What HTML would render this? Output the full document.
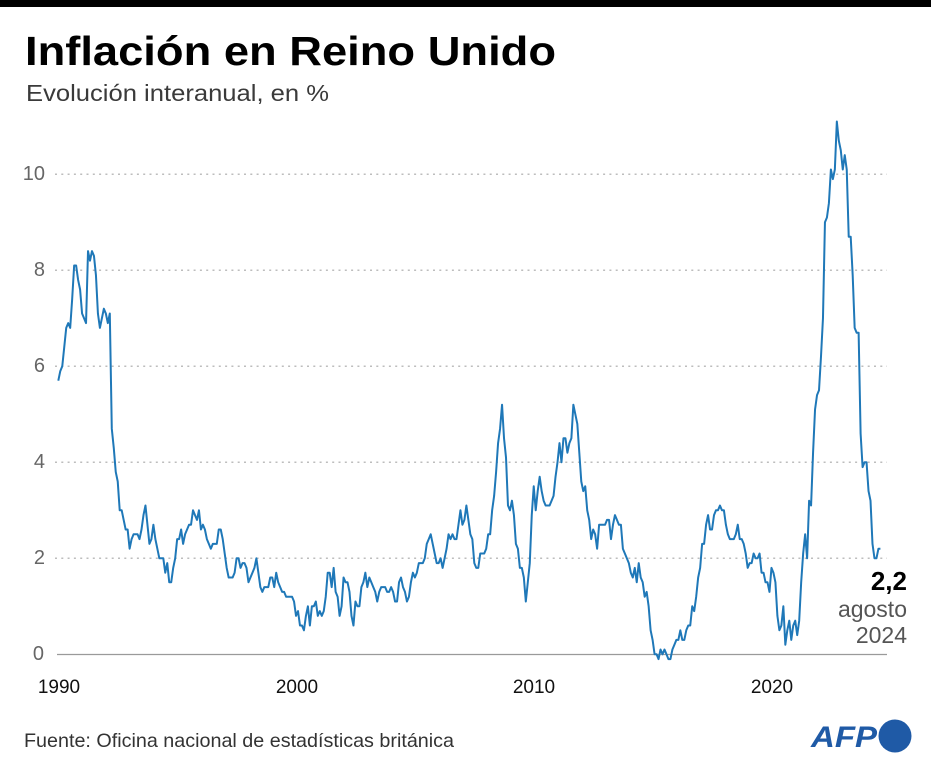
<!DOCTYPE html>
<html>
<head>
<meta charset="utf-8">
<style>
  html,body{margin:0;padding:0;background:#fff;}
  body{width:931px;height:768px;overflow:hidden;}
  svg{display:block;font-family:"Liberation Sans",sans-serif;}
</style>
</head>
<body>
<svg width="931" height="768" viewBox="0 0 931 768" xmlns="http://www.w3.org/2000/svg">
  <rect x="0" y="0" width="931" height="768" fill="#fff"/>
  <rect x="0" y="0" width="931" height="7" fill="#000"/>

  <text x="25" y="65" font-size="41" font-weight="bold" fill="#000" textLength="531" lengthAdjust="spacingAndGlyphs">Inflación en Reino Unido</text>
  <text x="26" y="101" font-size="23" fill="#3a3a3a" textLength="303" lengthAdjust="spacingAndGlyphs">Evolución interanual, en %</text>

  <!-- gridlines -->
  <g stroke="#bdbdbd" stroke-width="1.5" stroke-dasharray="2,4.3">
    <line x1="55" y1="174.3" x2="887" y2="174.3"/>
    <line x1="55" y1="270.3" x2="887" y2="270.3"/>
    <line x1="55" y1="366.3" x2="887" y2="366.3"/>
    <line x1="55" y1="462.3" x2="887" y2="462.3"/>
    <line x1="55" y1="558.3" x2="887" y2="558.3"/>
  </g>
  <line x1="57" y1="654.5" x2="887" y2="654.5" stroke="#9a9a9a" stroke-width="1.2"/>

  <!-- y labels -->
  <g font-size="20" fill="#666" text-anchor="end">
    <text x="45" y="180">10</text>
    <text x="45" y="276">8</text>
    <text x="45" y="372">6</text>
    <text x="45" y="468">4</text>
    <text x="45" y="564">2</text>
    <text x="44" y="660">0</text>
  </g>

  <!-- x labels -->
  <g font-size="19" fill="#111" text-anchor="middle">
    <text x="59" y="693">1990</text>
    <text x="297" y="693">2000</text>
    <text x="534" y="693">2010</text>
    <text x="772" y="693">2020</text>
  </g>

  <!-- series -->
  <polyline transform="translate(58.3,654.3) scale(1.981,-48)" fill="none" stroke="#1f78b8" stroke-width="2" stroke-linejoin="round" vector-effect="non-scaling-stroke" points="
0,5.7 1,5.9 2,6.0 3,6.4 4,6.8 5,6.9 6,6.8 7,7.4 8,8.1 9,8.1 10,7.8 11,7.6
12,7.1 13,7.0 14,6.9 15,8.4 16,8.2 17,8.4 18,8.3 19,7.9 20,7.1 21,6.8 22,7.0 23,7.2
24,7.1 25,6.9 26,7.1 27,4.7 28,4.3 29,3.8 30,3.6 31,3.0 32,3.0 33,2.8 34,2.6 35,2.6
36,2.2 37,2.4 38,2.5 39,2.5 40,2.5 41,2.4 42,2.6 43,2.9 44,3.1 45,2.7 46,2.3 47,2.4
48,2.7 49,2.4 50,2.2 51,2.0 52,2.0 53,2.0 54,1.7 55,1.9 56,1.5 57,1.5 58,1.8 59,2.0
60,2.4 61,2.4 62,2.6 63,2.3 64,2.5 65,2.6 66,2.7 67,2.7 68,3.0 69,2.9 70,2.8 71,3.0
72,2.6 73,2.7 74,2.6 75,2.4 76,2.3 77,2.2 78,2.3 79,2.3 80,2.3 81,2.6 82,2.6 83,2.4
84,2.1 85,1.8 86,1.6 87,1.6 88,1.6 89,1.7 90,2.0 91,2.0 92,1.8 93,1.9 94,1.9 95,1.8
96,1.5 97,1.6 98,1.7 99,1.8 100,2.0 101,1.7 102,1.4 103,1.3 104,1.4 105,1.4 106,1.4 107,1.6
108,1.6 109,1.4 110,1.7 111,1.5 112,1.4 113,1.3 114,1.3 115,1.2 116,1.2 117,1.2 118,1.2 119,1.1
120,0.8 121,0.9 122,0.6 123,0.6 124,0.5 125,0.8 126,1.0 127,0.6 128,1.0 129,1.0 130,1.1 131,0.8
132,0.9 133,0.8 134,0.9 135,1.2 136,1.7 137,1.7 138,1.4 139,1.8 140,1.3 141,1.2 142,0.8 143,1.0
144,1.6 145,1.5 146,1.5 147,1.3 148,0.8 149,0.6 150,1.1 151,1.0 152,1.0 153,1.4 154,1.5 155,1.7
156,1.4 157,1.6 158,1.5 159,1.4 160,1.3 161,1.1 162,1.3 163,1.4 164,1.4 165,1.4 166,1.3 167,1.3
168,1.4 169,1.3 170,1.1 171,1.1 172,1.5 173,1.6 174,1.4 175,1.3 176,1.1 177,1.2 178,1.5 179,1.7
180,1.6 181,1.7 182,1.9 183,1.9 184,1.9 185,2.0 186,2.3 187,2.4 188,2.5 189,2.3 190,2.1 191,1.9
192,1.9 193,2.0 194,1.8 195,2.0 196,2.2 197,2.5 198,2.4 199,2.5 200,2.4 201,2.4 202,2.7 203,3.0
204,2.7 205,2.8 206,3.1 207,2.8 208,2.5 209,2.4 210,1.9 211,1.8 212,1.8 213,2.1 214,2.1 215,2.1
216,2.2 217,2.5 218,2.5 219,3.0 220,3.3 221,3.8 222,4.4 223,4.7 224,5.2 225,4.5 226,4.1 227,3.1
228,3.0 229,3.2 230,2.9 231,2.3 232,2.2 233,1.8 234,1.8 235,1.6 236,1.1 237,1.5 238,1.9 239,2.9
240,3.5 241,3.0 242,3.4 243,3.7 244,3.4 245,3.2 246,3.1 247,3.1 248,3.1 249,3.2 250,3.3 251,3.7
252,4.0 253,4.4 254,4.0 255,4.5 256,4.5 257,4.2 258,4.4 259,4.5 260,5.2 261,5.0 262,4.8 263,4.2
264,3.6 265,3.4 266,3.5 267,3.0 268,2.8 269,2.4 270,2.6 271,2.5 272,2.2 273,2.7 274,2.7 275,2.7
276,2.7 277,2.8 278,2.8 279,2.4 280,2.7 281,2.9 282,2.8 283,2.7 284,2.7 285,2.2 286,2.1 287,2.0
288,1.9 289,1.7 290,1.6 291,1.8 292,1.5 293,1.9 294,1.6 295,1.5 296,1.2 297,1.3 298,1.0 299,0.5
300,0.3 301,0.0 302,0.0 303,-0.1 304,0.1 305,0.0 306,0.1 307,0.0 308,-0.1 309,-0.1 310,0.1 311,0.2
312,0.3 313,0.3 314,0.5 315,0.3 316,0.3 317,0.5 318,0.6 319,0.6 320,1.0 321,0.9 322,1.2 323,1.6
324,1.8 325,2.3 326,2.3 327,2.7 328,2.9 329,2.6 330,2.6 331,2.9 332,3.0 333,3.0 334,3.1 335,3.0
336,3.0 337,2.7 338,2.5 339,2.4 340,2.4 341,2.4 342,2.5 343,2.7 344,2.4 345,2.4 346,2.3 347,2.1
348,1.8 349,1.9 350,1.9 351,2.1 352,2.0 353,2.0 354,2.1 355,1.7 356,1.7 357,1.5 358,1.5 359,1.3
360,1.8 361,1.7 362,1.5 363,0.8 364,0.5 365,0.6 366,1.0 367,0.2 368,0.5 369,0.7 370,0.3 371,0.6
372,0.7 373,0.4 374,0.7 375,1.5 376,2.1 377,2.5 378,2.0 379,3.2 380,3.1 381,4.2 382,5.1 383,5.4
384,5.5 385,6.2 386,7.0 387,9.0 388,9.1 389,9.4 390,10.1 391,9.9 392,10.1 393,11.1 394,10.7 395,10.5
396,10.1 397,10.4 398,10.1 399,8.7 400,8.7 401,7.9 402,6.8 403,6.7 404,6.7 405,4.6 406,3.9 407,4.0
408,4.0 409,3.4 410,3.2 411,2.3 412,2.0 413,2.0 414,2.2 415,2.2"/>

  <!-- end label -->
  <text x="907" y="590" font-size="26" font-weight="bold" fill="#000" text-anchor="end">2,2</text>
  <text x="907" y="617" font-size="23" fill="#555" text-anchor="end">agosto</text>
  <text x="907" y="643" font-size="23" fill="#555" text-anchor="end">2024</text>

  <!-- source -->
  <text x="24" y="747" font-size="19.5" fill="#333" textLength="430" lengthAdjust="spacingAndGlyphs">Fuente: Oficina nacional de estadísticas británica</text>

  <!-- AFP logo -->
  <text x="811" y="747" font-size="30" font-weight="bold" font-style="italic" fill="#1f5aa6" textLength="66" lengthAdjust="spacingAndGlyphs">AFP</text>
  <circle cx="895" cy="736" r="16.5" fill="#1f5aa6"/>
</svg>
</body>
</html>
